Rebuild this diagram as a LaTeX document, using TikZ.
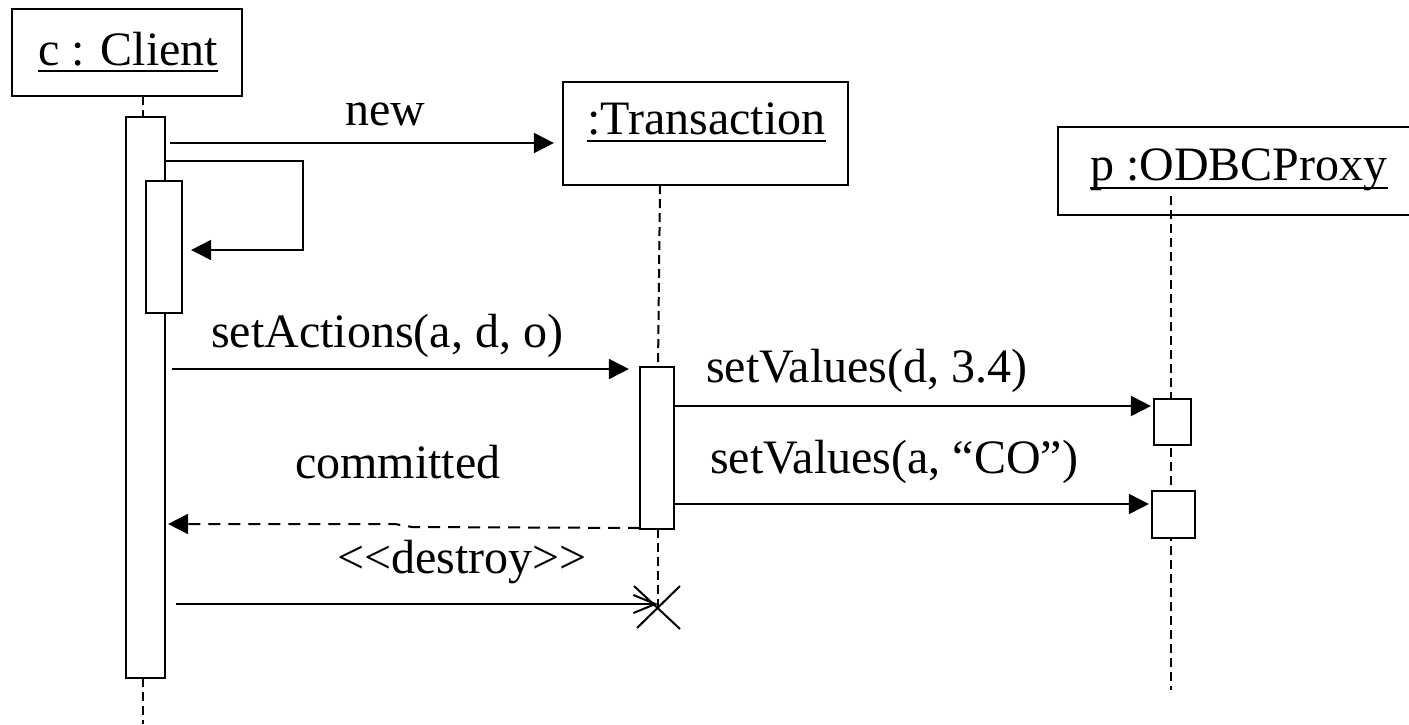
\documentclass[tikz,border=0pt]{standalone}
\usepackage{fontspec}
\setmainfont{Liberation Serif}
\usetikzlibrary{arrows.meta}
\begin{document}
\begin{tikzpicture}[x=1pt,y=-1pt,
  box/.style={draw,line width=2.2pt,fill=white,inner sep=0},
  act/.style={draw,line width=2.2pt,fill=white,inner sep=0},
  life/.style={line width=2pt,dash pattern=on 9pt off 5pt},
  msg/.style={line width=2pt,-{Triangle[length=20pt,width=20pt]}},
  ret/.style={line width=2pt,dash pattern=on 12pt off 8pt,-{Triangle[length=20pt,width=20pt]}},
  lbl/.style={inner sep=0,anchor=base west,font=\fontsize{48}{56}\selectfont},
  uline/.style={line width=2.6pt}
]
\useasboundingbox (0,0) rectangle (1409,724);
\clip (0,0) rectangle (1409,724);

% object boxes
\node[box,minimum width=230pt,minimum height=87pt] (client) at (127,52.5) {};
\node[lbl] (clientT) at (38,65) {c : Client};
\draw[uline] ([yshift=-6pt]clientT.base west) -- ([yshift=-6pt]clientT.base east);

\node[box,minimum width=285pt,minimum height=103pt] (trans) at (705.5,133.5) {};
\node[lbl] (transT) at (587,134) {:Transaction};
\draw[uline] ([yshift=-7pt]transT.base west) -- ([yshift=-7pt]transT.base east);

\node[box,minimum width=372pt,minimum height=88pt] (proxy) at (1244,171) {};
\node[lbl] (proxyT) at (1090,180) {p :ODBCProxy};
\draw[uline] ([yshift=-8pt]proxyT.base west) -- ([yshift=-8pt]proxyT.base east);

% lifeline coordinates
\coordinate (cl0) at (143,96);
\coordinate (cl1) at (143,117);
\coordinate (cl2) at (143,678);
\coordinate (cl3) at (143,724);
\coordinate (tl0) at (660,185);
\coordinate (tl1) at (658,367);
\coordinate (tl2) at (658,529);
\coordinate (xx) at (658,607);
\coordinate (pl0) at (1171,196);
\coordinate (pl1) at (1171,690);

\draw[life] (cl0) -- (cl1);
\draw[life] (cl2) -- (cl3);
\draw[life] (tl0) -- (tl1);
\draw[life] (tl2) -- (xx);
\draw[life] (pl0) -- (pl1);

% activation bars
\node[act,minimum width=39pt,minimum height=561pt] (ca) at (145.5,397.5) {};
\node[act,minimum width=36pt,minimum height=132pt] (cn) at (164,247) {};
\node[act,minimum width=34pt,minimum height=162pt] (ta) at (657,448) {};
\node[act,minimum width=37pt,minimum height=46pt] (p1) at (1172.5,422) {};
\node[act,minimum width=43pt,minimum height=47pt] (p2) at (1173.5,514.5) {};

% destruction mark
\draw[line width=2pt] (634,586) -- (680,629);
\draw[line width=2pt] (637,628) -- (680,586);

% messages
\coordinate (m1a) at (170,143);
\draw[msg,shorten >=8pt] (m1a) -- (trans.west |- m1a);
\node[lbl] (m1l) at (345,125) {new};

\coordinate (s0) at (166,161);
\coordinate (s1) at (303,161);
\coordinate (s2) at (303,250);
\draw[msg,shorten >=8pt] (s0) -- (s1) -- (s2) -- (cn.east |- s2);

\coordinate (m2a) at (172,369);
\draw[msg,shorten >=10pt] (m2a) -- (ta.west |- m2a);
\node[lbl] (m2l) at (211,347) {setActions(a, d, o)};

\coordinate (m3a) at (674,406);
\draw[msg,shorten >=2pt] (m3a) -- (p1.west |- m3a);
\node[lbl] (m3l) at (706,382) {setValues(d, 3.4)};

\coordinate (m4a) at (674,504);
\draw[msg,shorten >=2pt] (m4a) -- (p2.west |- m4a);
\node[lbl] (m4l) at (710,473) {setValues(a, “CO”)};

\coordinate (r1a) at (640,528);
\coordinate (r1b) at (412,527);
\coordinate (r1c) at (395,524);
\draw[ret,shorten >=2pt] (r1a) -- (r1b) -- (r1c) -- (ca.east |- r1c);
\node[lbl] (r1l) at (295,478) {committed};

\coordinate (d1a) at (176,604);
\draw[line width=2pt,-{Straight Barb[length=22pt,width=18pt,line width=2pt]}] (d1a) -- (xx |- d1a);
\node[lbl] (d1l) at (337,573) {<{}<destroy>{}>};
\end{tikzpicture}
\end{document}
